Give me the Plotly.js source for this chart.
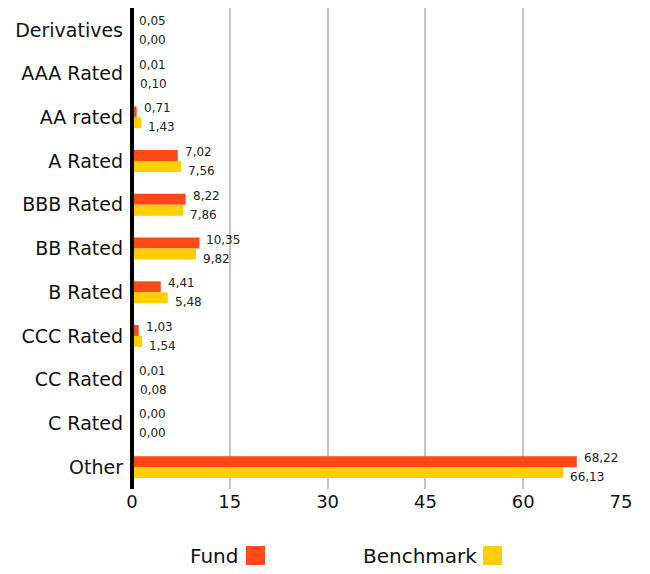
<!DOCTYPE html>
<html><head><meta charset="utf-8">
<script src="https://cdn.plot.ly/plotly-3.0.1.min.js"></script>
<style>html,body{margin:0;padding:0;background:#fff}</style>
</head><body>
<div id="chart" style="width:650px;height:574px"></div>
<script>
const categories = ["Derivatives","AAA Rated","AA rated","A Rated","BBB Rated","BB Rated","B Rated","CCC Rated","CC Rated","C Rated","Other"];
const fundValues = [0.05,0.01,0.71,7.02,8.22,10.35,4.41,1.03,0.01,0.00,68.22];
const benchmarkValues = [0.00,0.10,1.43,7.56,7.86,9.82,5.48,1.54,0.08,0.00,66.13];
const tickValues = [0,15,30,45,60,75];

const FONT = "DejaVu Sans, sans-serif";
const fundColor = "#FF4A17";
const benchColor = "#FFCE00";
const fmt = v => v.toFixed(2).replace(".", ",");

const traces = [
  {type:"bar", orientation:"h", name:"Fund", y:categories, x:fundValues,
   marker:{color:fundColor}, showlegend:false, hoverinfo:"none"},
  {type:"bar", orientation:"h", name:"Benchmark", y:categories, x:benchmarkValues,
   marker:{color:benchColor}, showlegend:false, hoverinfo:"none"}
];

const labelFont = {size:12, family:FONT, color:"#222"};
const dataLabels = [];
categories.forEach((c, i) => {
  dataLabels.push({xref:"x", yref:"y", x:fundValues[i], y:c, text:fmt(fundValues[i]), showarrow:false,
    xanchor:"left", yanchor:"middle", xshift:5, yshift:9, font:labelFont});
  dataLabels.push({xref:"x", yref:"y", x:benchmarkValues[i], y:c, text:fmt(benchmarkValues[i]), showarrow:false,
    xanchor:"left", yanchor:"middle", xshift:5, yshift:-10, font:labelFont});
});

const layout = {
  width:650, height:574,
  margin:{l:132, r:29, t:8, b:85},
  separators:",.",
  barmode:"group", bargap:0.5, bargroupgap:0,
  paper_bgcolor:"#fff", plot_bgcolor:"#fff",
  font:{family:FONT, color:"#111"},
  xaxis:{range:[0,75], tickvals:tickValues, ticktext:tickValues.map(String),
    showgrid:true, gridcolor:"#c4c4c4", gridwidth:2, zeroline:false,
    showline:false, ticks:"", tickfont:{size:18, family:FONT, color:"#111"}, fixedrange:true},
  yaxis:{autorange:"reversed", type:"category", ticks:"", showgrid:false, zeroline:false,
    showline:false, tickfont:{size:19, family:FONT, color:"#111"}, ticklabelstandoff:8},
  shapes:[
    {type:"line", xref:"paper", yref:"paper", x0:0, x1:0, y0:0, y1:1, line:{color:"#000", width:4}, layer:"above"},
    {type:"rect", xref:"paper", yref:"paper", x0:(246-132)/489, x1:(265-132)/489, y0:-(546-489)/481, y1:-(565-489)/481, fillcolor:fundColor, line:{width:0}},
    {type:"rect", xref:"paper", yref:"paper", x0:(483-132)/489, x1:(502-132)/489, y0:-(546-489)/481, y1:-(565-489)/481, fillcolor:benchColor, line:{width:0}}
  ],
  annotations:dataLabels.concat([
    {xref:"paper", yref:"paper", x:(240-132)/489, y:-(556-489)/481, xanchor:"right", yanchor:"middle", text:"Fund", showarrow:false, font:{size:20, family:FONT, color:"#111"}},
    {xref:"paper", yref:"paper", x:(479-132)/489, y:-(556-489)/481, xanchor:"right", yanchor:"middle", text:"Benchmark", showarrow:false, font:{size:20, family:FONT, color:"#111"}}
  ])
};
Plotly.newPlot("chart", traces, layout, {staticPlot:true, displayModeBar:false});
</script>
</body></html>
